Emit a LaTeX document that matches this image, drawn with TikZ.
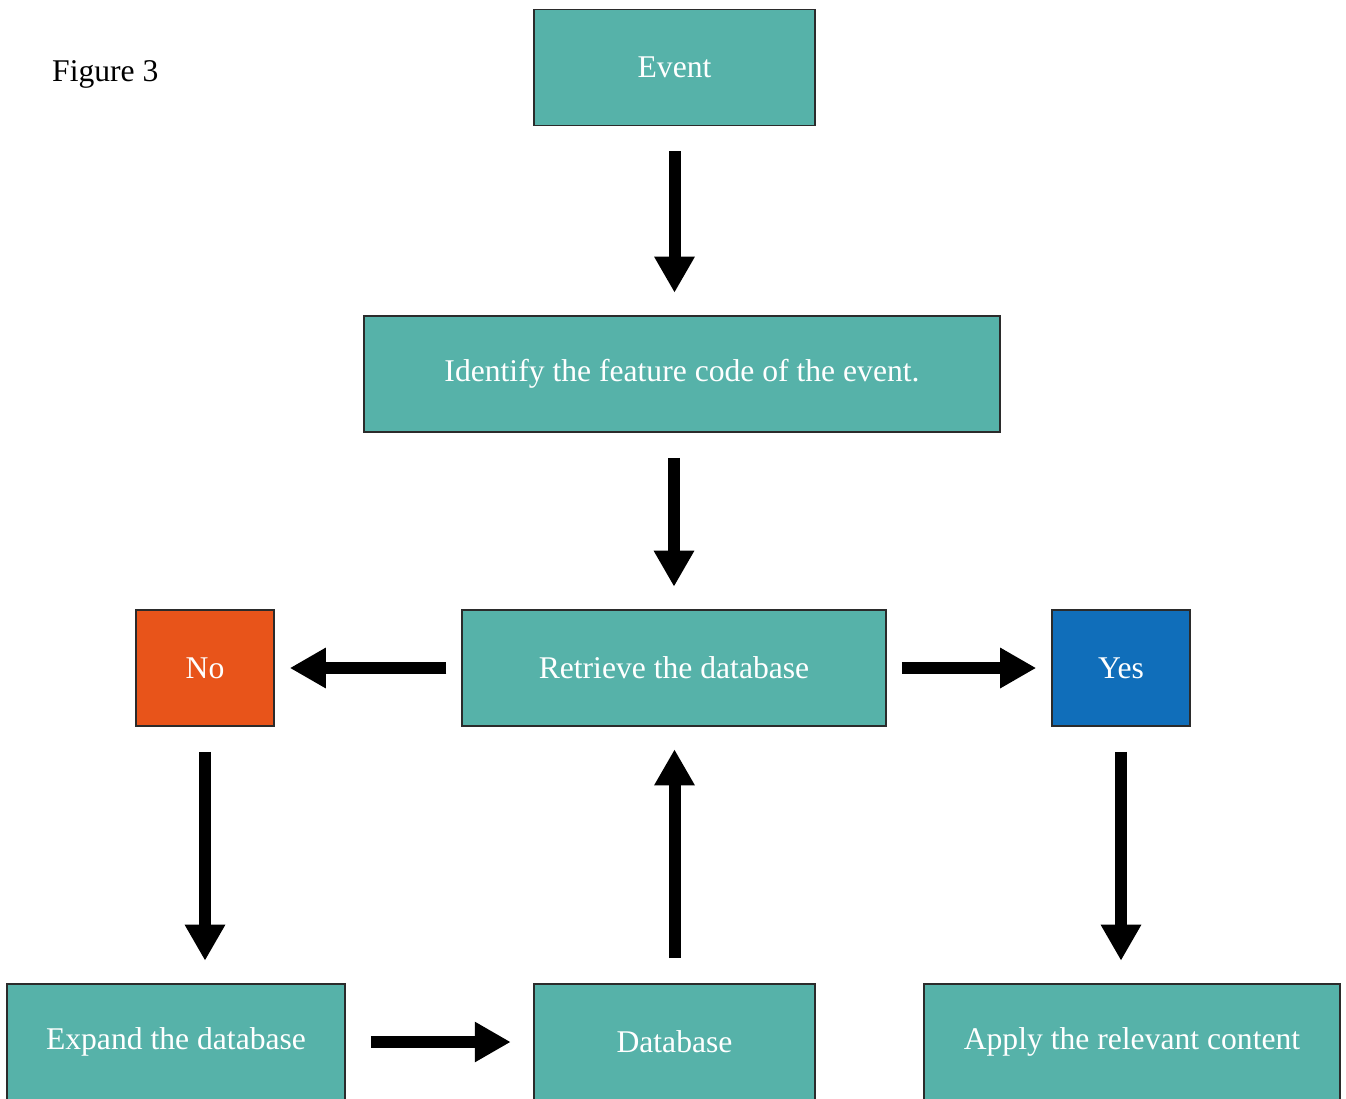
\documentclass[tikz,border=0pt]{standalone}
\usepackage{fontspec}
\setmainfont{Liberation Serif}
\usetikzlibrary{arrows.meta}
\definecolor{FlowTeal}{HTML}{56B2A9}
\definecolor{FlowOrange}{HTML}{E8541A}
\definecolor{FlowBlue}{HTML}{106EBA}
\definecolor{FlowEdge}{HTML}{2B2B2B}
\tikzset{
  stepbox/.style={draw=FlowEdge,line width=0.9pt,fill=FlowTeal,text=white,
    minimum height=2.32cm,inner sep=0pt,font=\fontsize{18}{21}\selectfont},
  flow/.style={line width=0.24cm,-{Triangle[width=0.76cm,length=0.72cm]},
    shorten <=0.5cm,shorten >=0.45cm},
  sideflow/.style={flow,shorten <=0.3cm,shorten >=0.3cm}
}

\begin{document}
\begin{tikzpicture}[x=0.02cm,y=-0.02cm]
\path[use as bounding box] (0,0) rectangle (1346,1099);
\clip (0,0) rectangle (1346,1099);
\node[anchor=west,font=\fontsize{18}{21}\selectfont] (caption) at (46,74) {Figure 3};
% boxes
\node[stepbox,minimum width=5.62cm] (event) at (674.5,67.5) {Event};
\node[stepbox,minimum width=12.72cm] (identify) at (682,374) {Identify the feature code of the event.};
\node[stepbox,minimum width=8.48cm] (retrieve) at (674,668) {Retrieve the database};
\node[stepbox,fill=FlowOrange,minimum width=2.76cm] (no) at (205,668) {No};
\node[stepbox,fill=FlowBlue,minimum width=2.76cm] (yes) at (1121,668) {Yes};
\node[stepbox,minimum width=6.76cm] (expand) at (176,1042) {Expand the database};
\node[stepbox,minimum width=5.62cm] (database) at (674.5,1042) {Database};
\node[stepbox,minimum width=8.32cm] (apply) at (1132,1042) {Apply the relevant content};
% arrows
\draw[flow] (event) -- (event |- identify.north);
\draw[flow] (retrieve |- identify.south) -- (retrieve);
\draw[sideflow] (retrieve) -- (no);
\draw[sideflow] (retrieve) -- (yes);
\draw[flow] (no) -- (no |- expand.north);
\draw[flow] (yes) -- (yes |- apply.north);
\draw[flow] (database) -- (database |- retrieve.south);
\draw[flow] (expand) -- (database);
\end{tikzpicture}
\end{document}
